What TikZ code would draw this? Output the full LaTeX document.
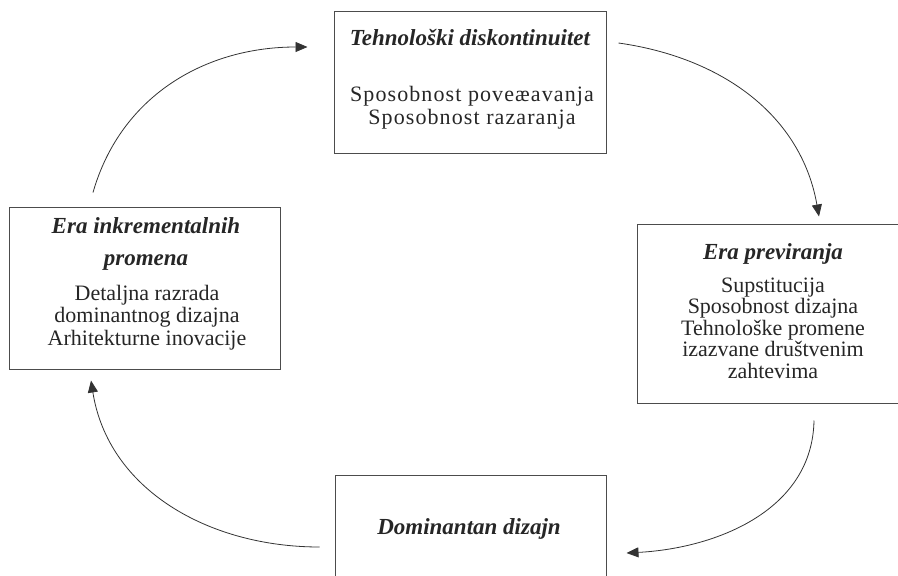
\documentclass[tikz,border=0pt]{standalone}
\usepackage{fontspec}
\setmainfont{Liberation Serif}
\newfontfamily\razmak[LetterSpace=5]{Liberation Serif}
\usetikzlibrary{arrows.meta}

\tikzset{
	faza/.style={draw=black!70, line width=1pt, minimum width=272pt, inner sep=0pt},
	naslov/.style={font=\fontsize{23}{32}\selectfont\bfseries\itshape, text=black!85, align=center, anchor=base, inner sep=0pt},
	opis/.style={font=\fontsize{22}{22}\selectfont, text=black!85, align=center, anchor=base, inner sep=0pt},
	veza/.style={draw=black!80, line width=0.8pt, -{Triangle[length=12pt,width=10pt]}}
}

\begin{document}
\begin{tikzpicture}[x=1pt, y=-1pt]

		\useasboundingbox (0,0) rectangle (898,576);

		% boxes
		\node[faza, minimum height=142pt] (disk) at (470,82) {};
		\node[faza, minimum height=162pt, minimum width=271pt] (inkr) at (144.5,288) {};
		\node[faza, minimum height=179pt] (prev) at (773,313.5) {};
		\node[faza, minimum height=142pt, minimum width=271pt] (dom) at (470.5,546) {};

		% texts (anchor = baseline of the last line)
		\node[naslov] (disk-naslov) at (470,45) {Tehnološki diskontinuitet};
		\node[opis, font=\fontsize{22}{23}\razmak] (disk-opis) at (472,124) {Sposobnost poveæavanja\\Sposobnost razaranja};
		\node[naslov] (inkr-naslov) at (146,265) {Era inkrementalnih\\promena};
		\node[opis, font=\fontsize{22}{22.5}\selectfont] (inkr-opis) at (147,345) {Detaljna razrada\\dominantnog dizajna\\Arhitekturne inovacije};
		\node[naslov] (prev-naslov) at (773,259) {Era previranja};
		\node[opis, font=\fontsize{22}{21.5}\selectfont] (prev-opis) at (773,378) {Supstitucija\\Sposobnost dizajna\\Tehnološke promene\\izazvane društvenim\\zahtevima};
		\node[naslov] (dom-naslov) at (469,534) {Dominantan dizajn};

		% cycle
		\draw[veza] ([xshift=-51.5pt, yshift=14pt]inkr.north) to[out=74, in=180] ([xshift=-26pt, yshift=35pt]disk.west);
		\draw[veza] ([xshift=12pt, yshift=39pt]disk.east) to[out=-8, in=100] ([xshift=46pt, yshift=7pt]prev.north);
		\draw[veza] ([xshift=41pt, yshift=-17pt]prev.south) to[out=-91, in=3] ([xshift=20pt, yshift=-7pt]dom.east);
		\draw[veza] ([xshift=-15pt, yshift=-1pt]dom.west) to[out=180, in=-81] ([xshift=-53.5pt, yshift=-11pt]inkr.south);

	\end{tikzpicture}
\end{document}
